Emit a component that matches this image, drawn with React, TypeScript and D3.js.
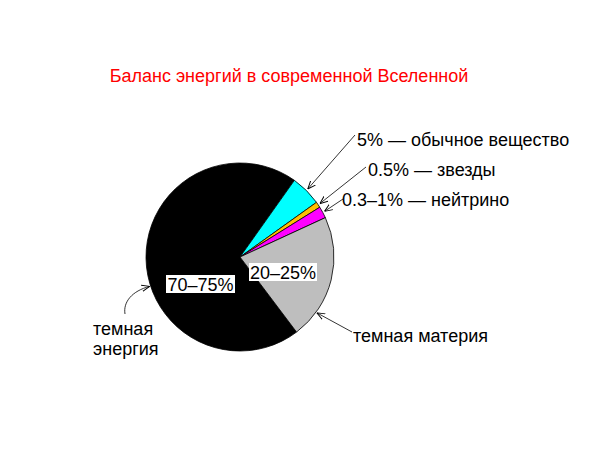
import React from "react";
import * as d3 from "d3";

const sliceNames = ["dark energy", "ordinary matter", "stars", "neutrino", "dark matter"];
const sliceValues = [70.1, 5.3, 1.0, 2.0, 21.6];
const sliceColors = ["#000000", "#00ffff", "#ffc000", "#ff00ff", "#bebebe"];

const title = "Баланс энергий в современной Вселенной";
const calloutTexts = ["5% — обычное вещество", "0.5% — звезды", "0.3–1% — нейтрино", "темная материя"];
const insideLabels = ["70–75%", "20–25%"];
const darkEnergyLines = ["темная", "энергия"];

export default function App() {
  const W = 600, H = 450;
  const cx = 240, cy = 257, r = 94;
  const startDeg = 143;
  const pie = d3.pie<number>().sort(null).value((d) => d)
    .startAngle((startDeg * Math.PI) / 180)
    .endAngle(((startDeg + 360) * Math.PI) / 180);
  const arcs = pie(sliceValues);
  const arc = d3.arc<d3.PieArcDatum<number>>().innerRadius(0).outerRadius(r);
  const font = "'Liberation Sans', Arial, sans-serif";
  const fs = 18;
  const rad = (deg: number) => (deg * Math.PI) / 180;

  const onCircle = (a: number, rr = r + 1) => [cx + rr * Math.sin(a), cy - rr * Math.cos(a)];
  const mid = (i: number) => (arcs[i].startAngle + arcs[i].endAngle) / 2;

  const callouts = [
    { text: calloutTexts[0], tx: 357, ty: 146, from: [355, 135], to: onCircle(mid(1), r + 2) },
    { text: calloutTexts[1], tx: 368, ty: 176, from: [366, 167], to: onCircle(mid(2), r + 2) },
    { text: calloutTexts[2], tx: 342, ty: 206, from: [343, 199], to: onCircle(mid(3), r + 2) },
    { text: calloutTexts[3], tx: 353, ty: 342, from: [352, 332], to: onCircle(rad(126), r + 1) },
  ];

  const deTarget = onCircle(rad(252), r + 1);

  return (
    <svg width={W} height={H} style={{ display: "block", position: "absolute", left: 0, top: 0 }} fontFamily={font}>
      <defs>
        <marker id="ah" viewBox="0 0 10 10" refX="10" refY="5" markerWidth="8" markerHeight="8" orient="auto" markerUnits="userSpaceOnUse">
          <path d="M0,1 L10,5 L0,9" fill="none" stroke="#000" strokeWidth={1.2} />
        </marker>
      </defs>
      <rect width={W} height={H} fill="#fff" />
      <text x={289} y={82} textAnchor="middle" fill="#ff0000" fontSize={fs}>{title}</text>
      <g>
        {arcs.map((a, i) => (
          <path key={sliceNames[i]} d={arc(a) || ""} transform={`translate(${cx},${cy})`} fill={sliceColors[i]} stroke="#000" strokeWidth={0.8} />
        ))}
      </g>
      {callouts.map((c) => (
        <g key={c.text}>
          <line x1={c.from[0]} y1={c.from[1]} x2={c.to[0]} y2={c.to[1]} stroke="#000" strokeWidth={0.8} markerEnd="url(#ah)" />
          <text x={c.tx} y={c.ty} fontSize={fs} fill="#000">{c.text}</text>
        </g>
      ))}
      <path d={`M125,314 C123,302 132,291 ${deTarget[0]},${deTarget[1]}`} fill="none" stroke="#000" strokeWidth={0.8} markerEnd="url(#ah)" />
      {darkEnergyLines.map((t, i) => (
        <text key={t} x={93} y={335 + i * 20} fontSize={fs} fill="#000">{t}</text>
      ))}
      <rect x={166} y={275} width={69} height={18} fill="#fff" />
      <text x={200.5} y={291} textAnchor="middle" fontSize={fs} fill="#000">{insideLabels[0]}</text>
      <rect x={249} y={263} width={68} height={18} fill="#fff" />
      <text x={283} y={279} textAnchor="middle" fontSize={fs} fill="#000">{insideLabels[1]}</text>
    </svg>
  );
}
